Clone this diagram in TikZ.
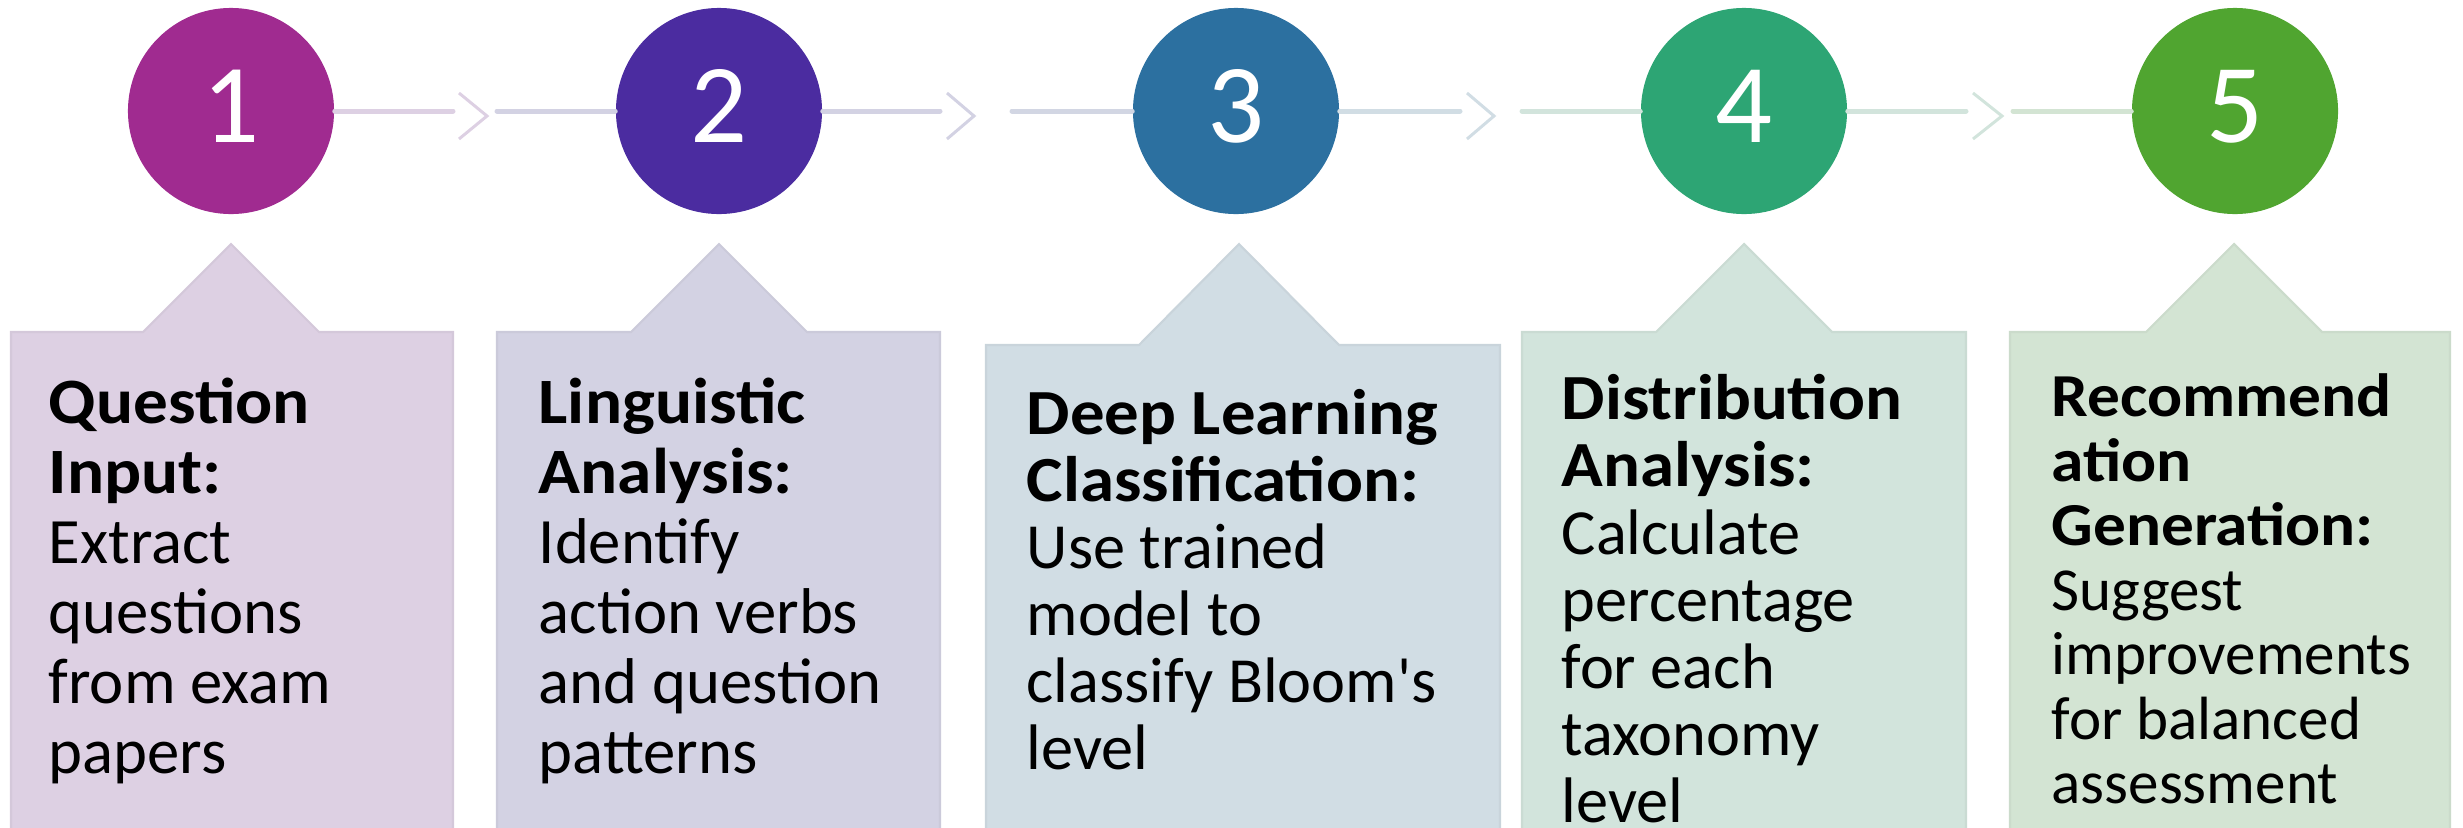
\documentclass[tikz,border=0pt]{standalone}
\usepackage{fontspec}
\setmainfont{Carlito}[Ligatures=TeXOff, BoldFeatures={FakeStretch=1.07}]
\definecolor{c1}{HTML}{A02B90}
\definecolor{c2}{HTML}{4B2CA0}
\definecolor{c3}{HTML}{2C70A0}
\definecolor{c4}{HTML}{2DA574}
\definecolor{c5}{HTML}{50A530}
\definecolor{f1}{HTML}{DDD0E3}
\definecolor{f2}{HTML}{D3D2E3}
\definecolor{f3}{HTML}{D1DDE4}
\definecolor{f4}{HTML}{D2E4DC}
\definecolor{f5}{HTML}{D3E4D3}
\begin{document}
\begin{tikzpicture}[x=0.01cm,y=-0.01cm,
  num/.style={circle, minimum size=2.06cm, inner sep=0pt, text=white,
    font=\fontsize{32pt}{32pt}\selectfont, text height=0.62cm, text depth=0cm},
  conn/.style={line width=1.42pt, line cap=round},
  chev/.style={line width=0.85pt},
  callout/.style={line width=0.6pt},
  txt/.style={anchor=north west, inner sep=0pt, align=left}]
\useasboundingbox (0,0) rectangle (2463,827);
\clip (0,0) rectangle (2463,827);
% callout boxes
\filldraw[callout, fill=f1, draw=f1!96!black] (11,900) -- (11,332) -- (143,332) -- (231,244) -- (319,332) -- (453,332) -- (453,900) -- cycle;
\filldraw[callout, fill=f2, draw=f2!96!black] (497,900) -- (497,332) -- (631,332) -- (719,244) -- (807,332) -- (940,332) -- (940,900) -- cycle;
\filldraw[callout, fill=f3, draw=f3!96!black] (986,900) -- (986,345) -- (1139,345) -- (1239,244) -- (1339,345) -- (1500,345) -- (1500,900) -- cycle;
\filldraw[callout, fill=f4, draw=f4!96!black] (1522,900) -- (1522,332) -- (1656,332) -- (1744,244) -- (1832,332) -- (1966,332) -- (1966,900) -- cycle;
\filldraw[callout, fill=f5, draw=f5!96!black] (2010,900) -- (2010,332) -- (2146,332) -- (2234,244) -- (2322,332) -- (2450,332) -- (2450,900) -- cycle;
% circles
\node[num, fill=c1] (n1) at (231,111) {1};
\node[num, fill=c2] (n2) at (719,111) {2};
\node[num, fill=c3] (n3) at (1236,111) {3};
\node[num, fill=c4] (n4) at (1744,111) {4};
\node[num, fill=c5] (n5) at (2235,111) {5};
% connector ends
\coordinate (a1) at (453,111); \coordinate (b1) at (497,111);
\coordinate (a2) at (940,111); \coordinate (b2) at (1012,111);
\coordinate (a3) at (1460,111); \coordinate (b3) at (1522,111);
\coordinate (a4) at (1966,111); \coordinate (b4) at (2013,111);
\draw[conn, draw=f1] (n1) -- (a1);
\draw[conn, draw=f2] (b1) -- (n2);
\draw[conn, draw=f2] (n2) -- (a2);
\draw[conn, draw=f2!60!f3] (b2) -- (n3);
\draw[conn, draw=f3] (n3) -- (a3);
\draw[conn, draw=f4] (b3) -- (n4);
\draw[conn, draw=f4] (n4) -- (a4);
\draw[conn, draw=f5] (b4) -- (n5);
% chevrons
\draw[chev, draw=f1] (459,93) -- (487,116) -- (459,139);
\draw[chev, draw=f2] (947,93) -- (974,116) -- (947,139);
\draw[chev, draw=f3] (1467,93) -- (1494,116) -- (1467,139);
\draw[chev, draw=f4] (1973,93) -- (2002,116) -- (1973,139);
% texts
\node[txt, font=\fontsize{18.4pt}{19.9pt}\selectfont] (t1) at (48,363)
  {\rule{0pt}{0.6cm}\textbf{Question}\\\textbf{Input:}\\Extract\\questions\\from exam\\papers};
\node[txt, font=\fontsize{18.4pt}{19.9pt}\selectfont] (t2) at (538,363)
  {\rule{0pt}{0.6cm}\textbf{Linguistic}\\\textbf{Analysis:}\\Identify\\action verbs\\and question\\patterns};
\node[txt, font=\fontsize{18.3pt}{19.05pt}\selectfont] (t3) at (1026,374)
  {\rule{0pt}{0.6cm}\textbf{Deep Learning}\\\textbf{Classification:}\\Use trained\\model to\\classify Bloom's\\level};
\node[txt, font=\fontsize{18.3pt}{19.1pt}\selectfont] (t4) at (1561,359)
  {\rule{0pt}{0.6cm}\textbf{Distribution}\\\textbf{Analysis:}\\Calculate\\percentage\\for each\\taxonomy\\level};
\node[txt, font=\fontsize{17.36pt}{18.35pt}\selectfont] (t5) at (2051,356)
  {\rule{0pt}{0.6cm}\textbf{Recommend}\\\textbf{ation}\\\textbf{Generation:}\\Suggest\\improvements\\for balanced\\assessment};
\end{tikzpicture}
\end{document}
